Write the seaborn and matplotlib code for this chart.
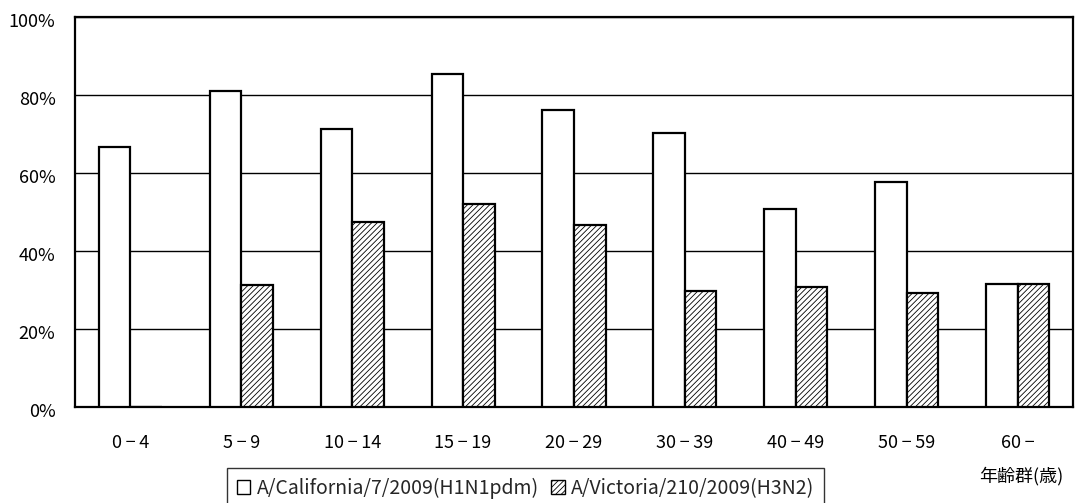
import matplotlib
matplotlib.use("Agg")
import matplotlib.pyplot as plt
from matplotlib.patches import Patch
from matplotlib.transforms import ScaledTranslation
import seaborn as sns
import pandas as pd
import numpy as np

# Age groups and antibody-positive rates (%) for the two vaccine strains
age_groups = ["0\u2009−\u20094", "5\u2009−\u20099", "10\u2009−\u200914", "15\u2009−\u200919",
              "20\u2009−\u200929", "30\u2009−\u200939", "40\u2009−\u200949", "50\u2009−\u200959",
              "60\u2009−"]
h1n1_rate = [66.8, 81.1, 71.2, 85.5, 76.3, 70.3, 50.7, 57.8, 31.7]
h3n2_rate = [0.0, 31.4, 47.6, 52.2, 46.7, 29.7, 30.7, 29.2, 31.7]
strains = ["A/California/7/2009(H1N1pdm)", "A/Victoria/210/2009(H3N2)"]
y_ticks = [0, 20, 40, 60, 80, 100]
x_axis_title = "年齢群(歳)"

sns.set_theme(style="white")
plt.rcParams["font.family"] = ["Noto Sans CJK JP", "DejaVu Sans"]
plt.rcParams["hatch.color"] = "black"
plt.rcParams["hatch.linewidth"] = 0.6

df = pd.DataFrame({
    "age": age_groups * 2,
    "rate": h1n1_rate + h3n2_rate,
    "strain": [strains[0]] * len(age_groups) + [strains[1]] * len(age_groups),
})

fig = plt.figure(figsize=(10.84, 5.03), dpi=100)
ax = fig.add_axes([75 / 1084, 1 - 407.3 / 503, 998 / 1084, 390.3 / 503])

sns.barplot(data=df, x="age", y="rate", hue="strain", order=age_groups,
            hue_order=strains, palette=["white", "white"], width=0.57,
            gap=0, edgecolor="black", linewidth=1.6, saturation=1,
            legend=False, ax=ax, zorder=3)

hatches = ["", "//////"]
for container, h in zip(ax.containers, hatches):
    for bar in container:
        bar.set_hatch(h)
        bar.set_zorder(3)

ax.set_xlim(-0.5, len(age_groups) - 0.5)
ax.set_ylim(0, 100)
ax.set_yticks(y_ticks)
ax.set_yticklabels([f"{v}%" for v in y_ticks])
ax.yaxis.grid(True, color="black", linewidth=1.0, zorder=1)
ax.xaxis.grid(False)
ax.set_axisbelow(True)
ax.set_xlabel("")
ax.set_ylabel("")

for s in ax.spines.values():
    s.set_visible(True)
    s.set_color("black")
    s.set_linewidth(1.6)

ax.tick_params(axis="y", length=0, pad=14, labelsize=13, colors="black")
ax.tick_params(axis="x", which="major", length=0, pad=19.5, labelsize=13, colors="black")
ax.set_xticks(np.arange(0.5, len(age_groups) - 1, 1.0), minor=True)
ax.tick_params(axis="x", which="minor", direction="in", length=6, width=1, color="black")

# nudge y tick labels slightly below their gridlines
shift = ScaledTranslation(0, -3 / 100, fig.dpi_scale_trans)
for lbl in ax.get_yticklabels():
    lbl.set_transform(lbl.get_transform() + shift)

fig.text(1021 / 1084, 1 - 476 / 503, x_axis_title, ha="center", va="center",
         fontsize=13, color="black")

handles = [Patch(facecolor="white", edgecolor="black", linewidth=1.0, label=strains[0]),
           Patch(facecolor="white", edgecolor="black", linewidth=1.0, hatch="//////", label=strains[1])]
leg = fig.legend(handles=handles, loc="upper left", bbox_to_anchor=(227 / 1084, 1 - 468 / 503),
                 ncol=2, frameon=True, fancybox=False, fontsize=14,
                 handlelength=0.7, handleheight=0.7, handletextpad=0.35,
                 columnspacing=0.6, borderpad=0.5, borderaxespad=0)
leg.get_frame().set_edgecolor("black")
leg.get_frame().set_linewidth(1.0)

fig.savefig("out.png", dpi=100)
